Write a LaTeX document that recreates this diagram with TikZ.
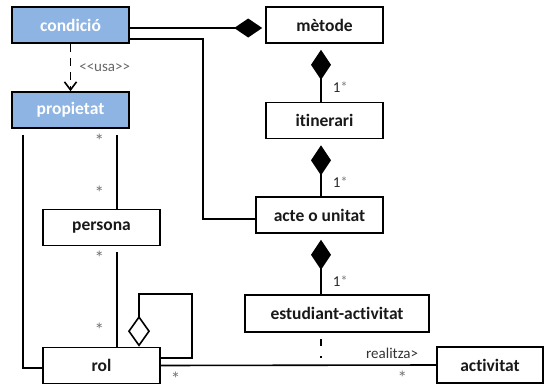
\documentclass[tikz,border=0pt]{standalone}
\usepackage{fontspec}
\setmainfont{Carlito}[Ligatures=NoCommon]
\usetikzlibrary{arrows.meta}
\definecolor{classblue}{RGB}{141,180,226}
\tikzset{
  class/.style={draw, line width=1.6pt, minimum height=36pt, inner sep=0pt,
    font=\fontsize{17.5}{20}\selectfont\bfseries, text=black!90},
  keyclass/.style={class, fill=classblue, text=white},
  link/.style={line width=1.6pt},
  comp/.style={link, -{Diamond[length=30pt,width=20pt]}, shorten >=6pt},
  mult/.style={font=\fontsize{19}{20}\selectfont, text=black!55, inner sep=0pt},
  tightmult/.style={mult, text height=13pt, text depth=-6pt},
  many/.style={font=\fontsize{15}{16}\selectfont, text=black!85, inner sep=0pt},
  role/.style={font=\fontsize{15}{17}\selectfont, text=black!80, inner sep=0pt},
}
\newcommand{\onemany}{1{\color{black!50}*}}

\begin{document}
\begin{tikzpicture}[x=1pt, y=-1pt]
        \useasboundingbox (0,0) rectangle (544,388);

        % Nodes
        \node[keyclass, minimum width=117pt] (condicio) at (70.5,25) {condició};
        \node[keyclass, minimum width=117pt] (propietat) at (70.5,110) {propietat};
        \node[class, minimum width=117pt] (metode) at (324.5,25) {mètode};
        \node[class, minimum width=117pt] (itinerari) at (324.5,120.5) {itinerari};
        \node[class, minimum width=127pt] (acte) at (319.5,215) {acte o unitat};
        \node[class, minimum width=184pt, minimum height=37pt] (estudiant) at (337,313.5) {estudiant-activitat};
        \node[class, minimum width=117pt] (persona) at (101.5,227.5) {persona};
        \node[class, minimum width=117pt] (rol) at (101.5,365.5) {rol};
        \node[class, minimum width=106pt] (activitat) at (490,365) {activitat};

        % Bend points
        \coordinate (spine) at (321,0);
        \coordinate (bend) at (203,219);
        \coordinate (loop) at (192,294);
        \coordinate (link) at (321,365);

        % Composition chain
        \draw[comp, shorten >=3pt, -{Diamond[length=28pt,width=19pt]}] ([yshift=-3pt]condicio.east) -- ([yshift=-3pt]metode.west);
        \draw[comp] (itinerari.north -| spine) -- (metode.south -| spine) node[pos=0.25, right=11pt, many] {\onemany};
        \draw[comp] (acte.north -| spine) -- (itinerari.south -| spine) node[pos=0.25, right=11pt, many] {\onemany};
        \draw[comp] (estudiant.north -| spine) -- (acte.south -| spine) node[pos=0.22, right=11pt, many] {\onemany};
        \draw[link] ([yshift=-14pt]condicio.east) -| (bend) -- (bend -| acte.west);

        % Dependency
        \draw[link, dash pattern=on 8pt off 6pt, -{Straight Barb[length=8pt,width=12pt]}] (condicio) -- (propietat)
            node[midway, right=8pt, role, text=black!60] {<\kern0pt<usa>\kern0pt>};

        % Associations
        \draw[link, shorten <=6pt] ([xshift=-47.5pt]propietat.south) |- ([yshift=-2.5pt]rol.west);
        \draw[link, shorten >=6pt] ([xshift=15.5pt]persona.north) -- ([xshift=46.5pt]propietat.south)
            node[pos=0.85, left=12pt, mult] {*}
            node[pos=0.2, left=12pt, mult] {*};
        \draw[link, shorten >=6pt] ([xshift=15.5pt]rol.north) -- ([xshift=15.5pt]persona.south)
            node[pos=0.17, left=12pt, mult] {*}
            node[pos=0.89, left=12pt, mult] {*};
        \draw[link, {Diamond[open,length=31pt,width=22pt]}-] ([xshift=37.5pt]rol.north) |- (loop) |- ([yshift=7.5pt]rol.east);
        \draw[link] (rol.east) -- (activitat.west)
            node[pos=0.054, below=6pt, tightmult] {*}
            node[pos=0.877, below=6pt, tightmult] {*}
            node[pos=0.84, above=6pt, role] {realitza>};
        \draw[link, dash pattern=on 7pt off 10pt, shorten <=6pt, shorten >=7pt] (estudiant.south -| spine) -- (link);
    \end{tikzpicture}
\end{document}
